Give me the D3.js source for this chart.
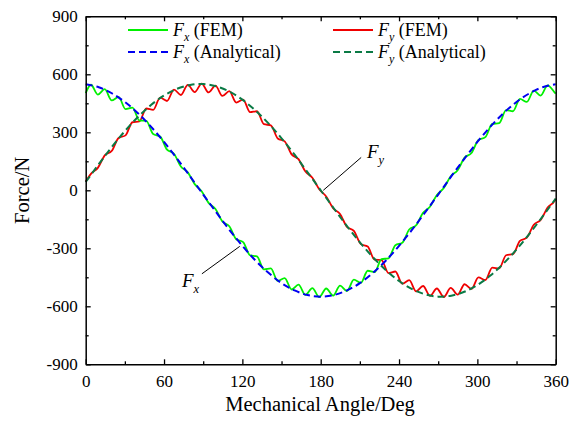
<!DOCTYPE html>
<html>
<head>
<meta charset="utf-8">
<script src="https://cdn.jsdelivr.net/npm/d3@7"></script>
<style>
  html, body { margin: 0; padding: 0; background: #fff; }
  svg { display: block; }
  svg text { font-family: "Liberation Serif", Tinos, "Times New Roman", Times, "DejaVu Serif", serif; fill: #000; }
</style>
</head>
<body>
<svg id="chart" width="583" height="425"></svg>
<script>
// Axis ticks
const angleTicks = [0, 60, 120, 180, 240, 300, 360];
const angleMinor = [30, 90, 150, 210, 270, 330];
const forceTicks = [-900, -600, -300, 0, 300, 600, 900];
const forceMinor = [-750, -450, -150, 150, 450, 750];

// Analytical forces, every 10 degrees
const analyticAngle = [0,10,20,30,40,50,60,70,80,90,100,110,120,130,140,150,160,170,180,
  190,200,210,220,230,240,250,260,270,280,290,300,310,320,330,340,350,360];
const fxAnalytical = [548,533,502,457,399,329,250,163,72,-22,-114,-204,-287,-363,-427,-480,-518,-542,-550,
  -542,-518,-480,-427,-363,-287,-204,-114,-22,72,163,250,329,399,457,502,533,548];
const fyAnalytical = [43,135,224,306,379,441,490,525,545,550,538,511,469,413,346,269,184,93,0,
  -93,-184,-269,-346,-413,-469,-511,-538,-550,-545,-525,-490,-441,-379,-306,-224,-135,-43];

// FEM forces at the ripple turning points
const femAngle = [0,4,9.3,14.6,19.9,25.2,30.5,35.8,41.1,46.4,51.7,57,62.3,67.6,72.9,78.2,83.5,88.8,
  94.1,99.4,104.7,110,115.3,120.6,125.9,131.2,136.5,141.8,147.1,152.4,157.7,163,168.3,173.6,178.9,
  184.2,189.5,194.8,200.1,205.4,210.7,216,221.3,226.6,231.9,237.2,242.5,247.8,253.1,258.4,263.7,
  269,274.3,279.6,284.9,290.2,295.5,300.8,306.1,311.4,316.7,322,327.3,332.6,337.9,343.2,348.5,
  353.8,359.1,360];
const fxFem = [503,546,495,523,465,483,420,428,361,359,291,278,210,189,123,93,32,-5,-65,-97,-161,
  -186,-253,-268,-336,-342,-409,-404,-469,-454,-513,-488,-541,-506,-552,-508,-545,-493,-521,-462,-479,
  -416,-423,-356,-352,-284,-271,-203,-181,-116,-85,-24,12,73,104,169,193,260,275,343,347,
  415,409,473,457,516,490,543,507,500];
const fyFem = [45,85,116,181,203,271,284,352,356,423,416,479,462,521,493,545,508,552,506,541,488,
  513,454,469,404,409,342,336,268,253,186,161,97,65,5,-32,-93,-123,-189,-210,-278,
  -291,-359,-361,-428,-420,-483,-465,-523,-495,-546,-508,-552,-505,-540,-486,-510,-450,-464,-400,-404,
  -336,-330,-262,-245,-178,-153,-89,-56,-45];

const seriesInfo = [
  { sub: "x", name: " (FEM)", color: "#00f000", dash: null },
  { sub: "y", name: " (FEM)", color: "#f00000", dash: null },
  { sub: "x", name: " (Analytical)", color: "#0000f0", dash: "7,4" },
  { sub: "y", name: " (Analytical)", color: "#0a7a45", dash: "7,4" }
];

const svg = d3.select("#chart");
const plotLeft = 85.7, plotRight = 555.7, plotTop = 16.3, plotBottom = 364.3;

const x = d3.scaleLinear().domain([0, 360]).range([plotLeft, plotRight]);
const y = d3.scaleLinear().domain([-900, 900]).range([plotBottom, plotTop]);

const toPts = (xs, ys) => xs.map((a, i) => [a, ys[i]]);
const femLine = d3.line().x(d => x(d[0])).y(d => y(d[1])).curve(d3.curveMonotoneX);
const anLine = d3.line().x(d => x(d[0])).y(d => y(d[1])).curve(d3.curveNatural);

const plot = svg.append("g");
plot.append("path").datum(toPts(femAngle, fyFem))
  .attr("d", femLine).attr("fill", "none").attr("stroke", seriesInfo[1].color).attr("stroke-width", 1.8);
plot.append("path").datum(toPts(femAngle, fxFem))
  .attr("d", femLine).attr("fill", "none").attr("stroke", seriesInfo[0].color).attr("stroke-width", 1.8);
plot.append("path").datum(toPts(analyticAngle, fxAnalytical))
  .attr("d", anLine).attr("fill", "none").attr("stroke", seriesInfo[2].color).attr("stroke-width", 2)
  .attr("stroke-dasharray", seriesInfo[2].dash);
plot.append("path").datum(toPts(analyticAngle, fyAnalytical))
  .attr("d", anLine).attr("fill", "none").attr("stroke", seriesInfo[3].color).attr("stroke-width", 2)
  .attr("stroke-dasharray", seriesInfo[3].dash);

// Axes with inward ticks on all four sides
function styleAxis(g) {
  g.attr("font-family", null).attr("font-size", null);
  g.select(".domain").attr("stroke", "#000").attr("stroke-width", 1.5);
  g.selectAll(".tick line").attr("stroke", "#000").attr("stroke-width", 1.3);
}
const tickFont = 17;

const xb = svg.append("g").attr("transform", `translate(0,${plotBottom})`)
  .call(d3.axisBottom(x).tickValues(angleTicks).tickSizeInner(-5).tickSizeOuter(0).tickPadding(11).tickFormat(d3.format("d")));
styleAxis(xb);
xb.selectAll("text").attr("font-size", tickFont).attr("fill", "#000");
svg.append("g").attr("transform", `translate(0,${plotBottom})`)
  .call(d3.axisBottom(x).tickValues(angleMinor).tickSizeInner(-3).tickSizeOuter(0).tickFormat(""))
  .call(styleAxis).select(".domain").remove();

const xt = svg.append("g").attr("transform", `translate(0,${plotTop})`)
  .call(d3.axisTop(x).tickValues(angleTicks).tickSizeInner(-5).tickSizeOuter(0).tickFormat(""));
styleAxis(xt);
svg.append("g").attr("transform", `translate(0,${plotTop})`)
  .call(d3.axisTop(x).tickValues(angleMinor).tickSizeInner(-3).tickSizeOuter(0).tickFormat(""))
  .call(styleAxis).select(".domain").remove();

const yl = svg.append("g").attr("transform", `translate(${plotLeft},0)`)
  .call(d3.axisLeft(y).tickValues(forceTicks).tickSizeInner(-5).tickSizeOuter(0).tickPadding(8).tickFormat(d => String(d)));
styleAxis(yl);
yl.selectAll("text").attr("font-size", tickFont).attr("fill", "#000");
svg.append("g").attr("transform", `translate(${plotLeft},0)`)
  .call(d3.axisLeft(y).tickValues(forceMinor).tickSizeInner(-3).tickSizeOuter(0).tickFormat(""))
  .call(styleAxis).select(".domain").remove();

const yr = svg.append("g").attr("transform", `translate(${plotRight},0)`)
  .call(d3.axisRight(y).tickValues(forceTicks).tickSizeInner(-5).tickSizeOuter(0).tickFormat(""));
styleAxis(yr);
svg.append("g").attr("transform", `translate(${plotRight},0)`)
  .call(d3.axisRight(y).tickValues(forceMinor).tickSizeInner(-3).tickSizeOuter(0).tickFormat(""))
  .call(styleAxis).select(".domain").remove();

// Axis titles
svg.append("text").attr("x", 320).attr("y", 411).attr("text-anchor", "middle")
  .attr("font-size", 20.5).text("Mechanical Angle/Deg");
svg.append("text").attr("transform", `translate(29,${(plotTop + plotBottom) / 2}) rotate(-90)`)
  .attr("text-anchor", "middle").attr("font-size", 20.5).text("Force/N");

// Legend
const legendPos = [
  { lx: 128, ly: 30 }, { lx: 333, ly: 30 }, { lx: 128, ly: 52 }, { lx: 333, ly: 52 }
];
seriesInfo.forEach((s, i) => {
  const p = legendPos[i];
  const g = svg.append("g");
  g.append("line").attr("x1", p.lx).attr("x2", p.lx + 40).attr("y1", p.ly).attr("y2", p.ly)
    .attr("stroke", s.color).attr("stroke-width", 2).attr("stroke-dasharray", s.dash);
  const t = g.append("text").attr("x", p.lx + 45).attr("y", p.ly + 6).attr("font-size", 18);
  t.append("tspan").attr("font-style", "italic").text("F");
  t.append("tspan").attr("font-style", "italic").attr("font-size", 12).attr("dy", 5).text(s.sub);
  t.append("tspan").attr("dy", -5).text(s.name);
});

// Curve callouts
function callout(x1, y1, x2, y2, tx, ty, sub) {
  svg.append("line").attr("x1", x1).attr("y1", y1).attr("x2", x2).attr("y2", y2)
    .attr("stroke", "#000").attr("stroke-width", 1);
  const t = svg.append("text").attr("x", tx).attr("y", ty).attr("font-size", 19);
  t.append("tspan").attr("font-style", "italic").text("F");
  t.append("tspan").attr("font-style", "italic").attr("font-size", 12.5).attr("dy", 6).text(sub);
}
callout(x(118), y(-290), x(89), y(-432), 182, 287, "x");
callout(x(182), y(0), x(211), y(170), 367, 158, "y");
</script>
</body>
</html>
